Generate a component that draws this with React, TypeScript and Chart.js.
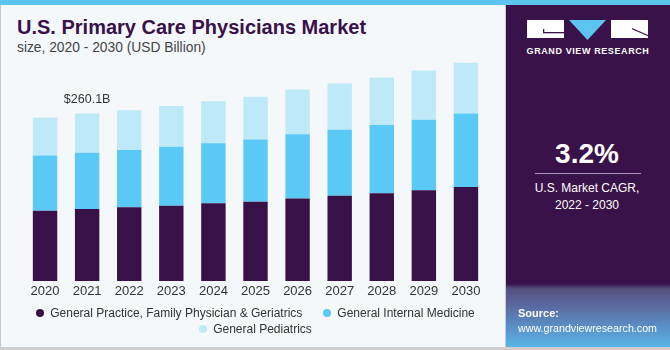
import React, { useEffect, useRef } from "react";
import { Chart, registerables } from "chart.js";

Chart.register(...registerables);

const years = ["2020", "2021", "2022", "2023", "2024", "2025", "2026", "2027", "2028", "2029", "2030"];
const generalPractice = [109.3, 111.9, 114.5, 116.9, 120.6, 123.1, 128.3, 132.3, 136.4, 141.0, 146.1];
const internalMedicine = [85.8, 87.4, 88.9, 91.5, 93.5, 96.6, 99.6, 102.7, 105.8, 109.3, 114.0];
const pediatrics = [58.9, 60.8, 61.8, 63.3, 65.3, 66.5, 69.4, 71.6, 74.0, 76.6, 79.1];
const seriesNames = ["General Practice, Family Physician & Geriatrics", "General Internal Medicine", "General Pediatrics"];
const seriesColors = ["#381149", "#5bc9f5", "#bde9f9"];
const legendRows = [[0, 1], [2]];
const annotatedIndex = 1;
const annotationText = "$260.1B";

const FONT = "'Liberation Sans', Arial, sans-serif";

const totalLabelPlugin = {
  id: "totalLabel",
  afterDatasetsDraw(chart: any) {
    const meta = chart.getDatasetMeta(2);
    const el = meta.data[annotatedIndex];
    if (!el) return;
    const ctx = chart.ctx;
    ctx.save();
    ctx.font = `12.5px ${FONT}`;
    ctx.fillStyle = "#333333";
    ctx.textAlign = "center";
    ctx.textBaseline = "alphabetic";
    ctx.fillText(annotationText, el.x, el.y - 11);
    ctx.restore();
  },
};

function BarChart() {
  const ref = useRef<HTMLCanvasElement>(null);
  useEffect(() => {
    const data = [generalPractice, internalMedicine, pediatrics];
    const chart = new Chart(ref.current as HTMLCanvasElement, {
      type: "bar",
      data: {
        labels: years,
        datasets: data.map((d, i) => ({
          label: seriesNames[i],
          data: d,
          backgroundColor: seriesColors[i],
          borderWidth: 0,
          barPercentage: 0.58,
          categoryPercentage: 1,
        })),
      },
      options: {
        animation: false,
        responsive: false,
        maintainAspectRatio: false,
        layout: { padding: { left: 24, right: 13, top: 0, bottom: 3.4 } },
        scales: {
          x: {
            stacked: true,
            grid: { display: false, drawTicks: false },
            border: { display: false },
            ticks: { color: "#333333", font: { size: 13, family: FONT }, padding: 3 },
          },
          y: {
            stacked: true,
            display: false,
            min: 0,
            max: 349.5,
          },
        },
        plugins: {
          tooltip: { enabled: false },
          legend: { display: false },
        },
      },
      plugins: [totalLabelPlugin],
    } as any);
    return () => chart.destroy();
  }, []);
  return <canvas ref={ref} width={500} height={250} style={{ position: "absolute", left: 0, top: 56, width: 500, height: 250 }} />;
}

function Legend() {
  return (
    <div style={{ position: "absolute", left: 24, top: 305, width: 463 }}>
      {legendRows.map((row, r) => (
        <div key={r} style={{ display: "flex", justifyContent: "center", height: 16, alignItems: "center" }}>
          {row.map((i, k) => (
            <div key={i} style={{ display: "flex", alignItems: "center", marginLeft: k > 0 ? 21 : 0 }}>
              <span style={{ display: "inline-block", width: 8, height: 8, borderRadius: 4, background: seriesColors[i], marginRight: 6 }} />
              <span style={{ fontSize: 12, color: "#333333", whiteSpace: "nowrap", lineHeight: "16px" }}>{seriesNames[i]}</span>
            </div>
          ))}
        </div>
      ))}
    </div>
  );
}

export default function App() {
  return (
    <div style={{ position: "fixed", left: 0, top: 0, width: 670, height: 350, background: "#f4f8fb", overflow: "hidden", fontFamily: FONT }}>
      <div style={{ position: "absolute", left: 0, top: 0, width: 670, height: 5, background: "#5cc5ef" }} />
      <div style={{ position: "absolute", left: 0, top: 5, width: 1, height: 345, background: "#c8c8c8" }} />
      <div style={{ position: "absolute", left: 0, top: 347, width: 670, height: 3, background: "#cfcfcf" }} />
      <div style={{ position: "absolute", left: 17, top: 15.5, fontSize: 20, fontWeight: 700, color: "#381149", whiteSpace: "nowrap" }}>
        U.S. Primary Care Physicians Market
      </div>
      <div style={{ position: "absolute", left: 17, top: 40, fontSize: 13.8, color: "#444444", whiteSpace: "nowrap" }}>
        size, 2020 - 2030 (USD Billion)
      </div>
      <BarChart />
      <Legend />
      <div style={{ position: "absolute", left: 505, top: 5, width: 1, height: 342, background: "#c8c8d0" }} />
      <div style={{ position: "absolute", left: 506, top: 5, width: 164, height: 342, background: "linear-gradient(180deg, #39124a 0%, #39124a 81.5%, #55507f 83%, #5a6aa0 88%, #5a95cc 95%, #58b6e6 100%)" }}>
        <svg width={164} height={30} style={{ position: "absolute", left: 0, top: 13 }}>
          <rect x={21} y={2} width={37} height={18} fill="#ffffff" />
          <rect x={37} y={14} width={21} height={1.3} fill="#39124a" />
          <rect x={37} y={11} width={1.3} height={4} fill="#39124a" />
          <polygon points="63,2 100,2 81.5,22" fill="#5cc5ef" />
          <rect x={105} y={2} width={37} height={18} fill="#ffffff" />
          <polygon points="126,10 142,17 142,18.3 126,11.3" fill="#39124a" />
        </svg>
        <div style={{ position: "absolute", left: 0, width: 164, top: 40.8, textAlign: "center", color: "#ffffff", fontSize: 9, fontWeight: 700, letterSpacing: 0.6 }}>
          GRAND VIEW RESEARCH
        </div>
        <div style={{ position: "absolute", left: 0, width: 162, top: 132.6, textAlign: "center", color: "#ffffff", fontSize: 28, fontWeight: 700 }}>
          3.2%
        </div>
        <div style={{ position: "absolute", left: 29, width: 106, top: 168, height: 1, background: "#a898b8" }} />
        <div style={{ position: "absolute", left: 0, width: 162, top: 174.75, textAlign: "center", color: "#ffffff", fontSize: 12, lineHeight: "17.5px" }}>
          U.S. Market CAGR,
          <br />
          2022 - 2030
        </div>
        <div style={{ position: "absolute", left: 12, top: 302, color: "#ffffff", fontSize: 11, fontWeight: 700 }}>Source:</div>
        <div style={{ position: "absolute", left: 12, top: 316.5, color: "#ffffff", fontSize: 10.7 }}>www.grandviewresearch.com</div>
      </div>
    </div>
  );
}
